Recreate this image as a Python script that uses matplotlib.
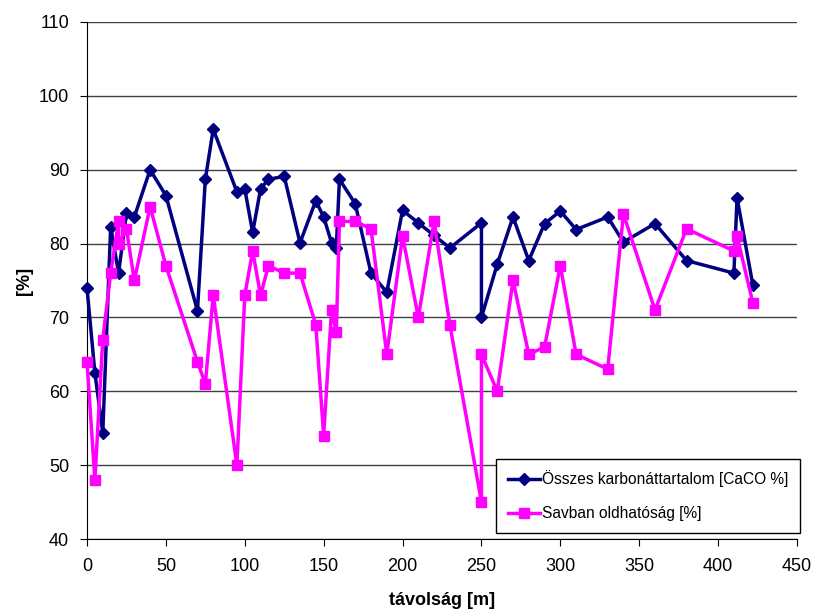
import matplotlib
matplotlib.use('Agg')
import matplotlib.pyplot as plt
import numpy as np

# Összes karbonáttartalom
dist_carb = [0, 5, 10, 15, 20, 25, 30, 40, 50, 70, 75, 80, 95, 100, 105, 110, 115,
             125, 135, 145, 150, 155, 158, 160, 170, 180, 190, 200, 210, 220, 230,
             250, 250, 260, 270, 280, 290, 300, 310, 330, 340, 360, 380, 410, 412, 422]
carb = [74.0, 62.5, 54.4, 82.3, 76.0, 84.1, 83.6, 90.0, 86.5, 70.9, 88.7, 95.5, 87.0, 87.4,
        81.5, 87.4, 88.7, 89.1, 80.1, 85.8, 83.6, 80.1, 79.4, 88.7, 85.4, 76.0, 73.4,
        84.5, 82.8, 81.1, 79.4, 82.8, 70.0, 77.2, 83.6, 77.7, 82.7, 84.4, 81.9,
        83.6, 80.2, 82.7, 77.7, 76.0, 86.2, 74.4]

# Savban oldhatóság
dist_sol = [0, 5, 10, 15, 20, 20, 25, 30, 40, 50, 70, 75, 80, 95, 100, 105, 110, 115,
            125, 135, 145, 150, 155, 158, 160, 170, 180, 190, 200, 210, 220, 230,
            250, 250, 260, 270, 280, 290, 300, 310, 330, 340, 360, 380, 410, 412, 422]
sol = [64, 48, 67, 76, 83, 80, 82, 75, 85, 77, 64, 61, 73, 50, 73, 79, 73, 77,
       76, 76, 69, 54, 71, 68, 83, 83, 82, 65, 81, 70, 83, 69,
       45, 65, 60, 75, 65, 66, 77, 65, 63, 84, 71, 82, 79, 81, 72]

plt.rcParams['font.family'] = ['Liberation Sans', 'DejaVu Sans']

fig = plt.figure(figsize=(8.14, 6.10), dpi=100)
ax = fig.add_axes([87/814, 71/610, 710/814, 517/610])

ax.plot(dist_carb, carb, color='#000080', lw=2.5, marker='D', ms=6.5,
        label='Összes karbonáttartalom [CaCO %]', clip_on=False, zorder=3)
ax.plot(dist_sol, sol, color='#FF00FF', lw=2.5, marker='s', ms=7.5,
        label='Savban oldhatóság [%]', clip_on=False, zorder=3)

ax.set_xlim(0, 450)
ax.set_ylim(40, 110)
ax.set_xticks(np.arange(0, 451, 50))
ax.set_yticks(np.arange(40, 111, 10))
ax.grid(axis='y', color='#404040', lw=1)
ax.set_axisbelow(True)
for s in ['top', 'right']:
    ax.spines[s].set_visible(False)
ax.spines['left'].set_color('black')
ax.spines['bottom'].set_color('black')
ax.tick_params(direction='out', length=5, labelsize=13, color='black')
ax.tick_params(axis='x', pad=9)
ax.tick_params(axis='y', pad=8)

ax.set_xlabel('távolság [m]', fontsize=13, fontweight='bold', labelpad=12)
ax.set_ylabel('[%]', fontsize=13, fontweight='bold', labelpad=4)

leg = ax.legend(loc='upper left', bbox_to_anchor=(0.576, 0.155), fontsize=11.2,
                frameon=True, fancybox=False, edgecolor='black', framealpha=1,
                handlelength=2.1, labelspacing=1.2, borderpad=0.75, handletextpad=0.1,
                borderaxespad=0)
leg.get_frame().set_linewidth(1)

fig.savefig('out.png', dpi=100)
